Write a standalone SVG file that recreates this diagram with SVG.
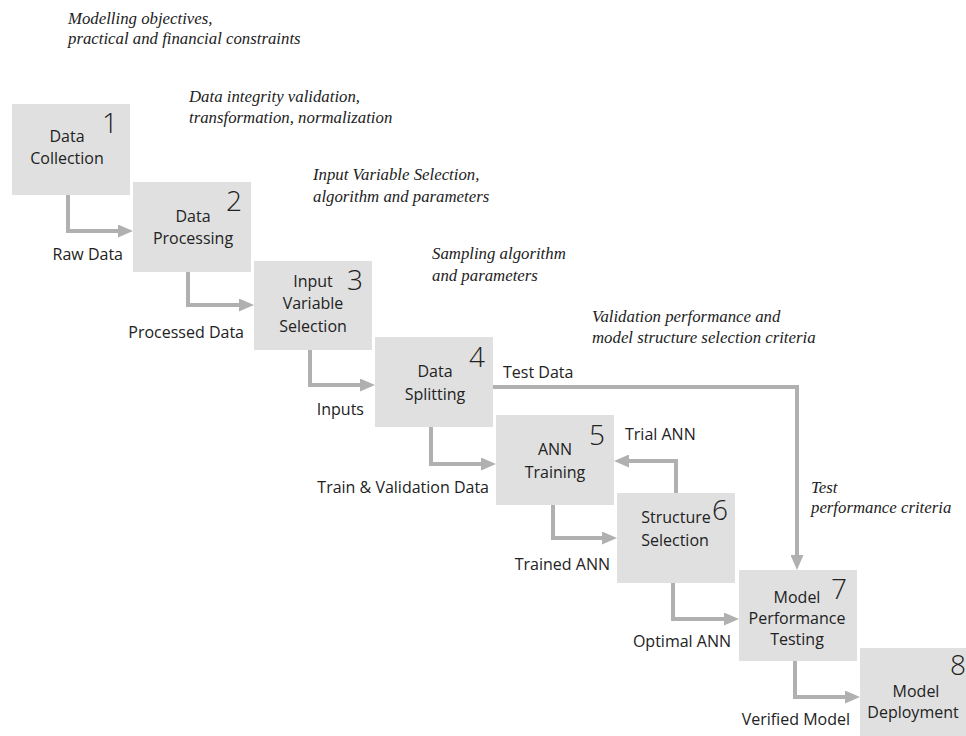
<svg xmlns="http://www.w3.org/2000/svg" width="966" height="736" viewBox="0 0 966 736">
<style>
.box{fill:#e0e0e0;}
.lbl{font-family:"Open Sans","Liberation Sans",sans-serif;font-size:16px;fill:#222;}
.c{text-anchor:middle;}
.e{text-anchor:end;}
.num{font-family:"Open Sans","Liberation Sans",sans-serif;font-weight:300;font-size:28px;fill:#222;text-anchor:end;}
.it{font-family:"Liberation Serif",serif;font-style:italic;font-size:16.8px;fill:#222;}
.conn{fill:none;stroke:#b0b0b0;stroke-width:4;}
</style>
<defs>
<marker id="ah" markerUnits="userSpaceOnUse" viewBox="0 0 15 13" markerWidth="15" markerHeight="13" refX="5" refY="6.5" orient="auto">
<path d="M0,0 L15,6.5 L0,13 Z" fill="#b0b0b0"/>
</marker>
</defs>
<rect width="966" height="736" fill="#ffffff"/>

<g id="annotations">
<text class="it" x="68" y="24">Modelling objectives,</text>
<text class="it" x="68" y="44">practical and financial constraints</text>
<text class="it" x="189" y="102">Data integrity validation,</text>
<text class="it" x="189" y="123">transformation, normalization</text>
<text class="it" x="313" y="180">Input Variable Selection,</text>
<text class="it" x="313" y="202">algorithm and parameters</text>
<text class="it" x="432" y="259">Sampling algorithm</text>
<text class="it" x="432" y="281">and parameters</text>
<text class="it" x="592" y="322">Validation performance and</text>
<text class="it" x="592" y="343">model structure selection criteria</text>
<text class="it" x="811" y="493">Test</text>
<text class="it" x="811" y="513">performance criteria</text>
</g>

<g id="connectors">
<path class="conn" d="M68,195 V231 H123" marker-end="url(#ah)"/>
<path class="conn" d="M188,272 V305 H244" marker-end="url(#ah)"/>
<path class="conn" d="M310,350 V385 H365" marker-end="url(#ah)"/>
<path class="conn" d="M431,427 V464 H486" marker-end="url(#ah)"/>
<path class="conn" d="M553,505 V538 H607" marker-end="url(#ah)"/>
<path class="conn" d="M673,583 V619 H729" marker-end="url(#ah)"/>
<path class="conn" d="M795,661 V697 H850" marker-end="url(#ah)"/>
<path class="conn" d="M676,493 V461 H624" marker-end="url(#ah)"/>
<path class="conn" d="M493,387 H797 V560" marker-end="url(#ah)"/>
<text class="lbl e" x="123" y="260">Raw Data</text>
<text class="lbl e" x="244" y="338">Processed Data</text>
<text class="lbl e" x="364" y="415">Inputs</text>
<text class="lbl e" x="489" y="493">Train &amp; Validation Data</text>
<text class="lbl e" x="610" y="570">Trained ANN</text>
<text class="lbl e" x="731" y="647">Optimal ANN</text>
<text class="lbl e" x="850" y="725">Verified Model</text>
<text class="lbl" x="503" y="378">Test Data</text>
<text class="lbl" x="625" y="440">Trial ANN</text>
</g>

<g id="node1">
<rect class="box" x="12" y="104" width="118" height="91"/>
<text class="num" x="118" y="133">1</text>
<text class="lbl c" x="67" y="142">Data</text>
<text class="lbl c" x="67" y="164">Collection</text>
</g>
<g id="node2">
<rect class="box" x="133" y="182" width="118" height="90"/>
<text class="num" x="242" y="211">2</text>
<text class="lbl c" x="193" y="222">Data</text>
<text class="lbl c" x="193" y="244">Processing</text>
</g>
<g id="node3">
<rect class="box" x="254" y="261" width="118" height="89"/>
<text class="num" x="363" y="290">3</text>
<text class="lbl c" x="313" y="287">Input</text>
<text class="lbl c" x="313" y="309">Variable</text>
<text class="lbl c" x="313" y="332">Selection</text>
</g>
<g id="node4">
<rect class="box" x="375" y="337" width="118" height="90"/>
<text class="num" x="485" y="367">4</text>
<text class="lbl c" x="435" y="377">Data</text>
<text class="lbl c" x="435" y="400">Splitting</text>
</g>
<g id="node5">
<rect class="box" x="496" y="415" width="118" height="90"/>
<text class="num" x="605" y="445">5</text>
<text class="lbl c" x="555" y="455">ANN</text>
<text class="lbl c" x="555" y="478">Training</text>
</g>
<g id="node6">
<rect class="box" x="617" y="493" width="118" height="90"/>
<text class="num" x="728" y="520">6</text>
<text class="lbl c" x="676" y="523">Structure</text>
<text class="lbl c" x="675" y="546">Selection</text>
</g>
<g id="node7">
<rect class="box" x="739" y="570" width="118" height="91"/>
<text class="num" x="847" y="599">7</text>
<text class="lbl c" x="797" y="603">Model</text>
<text class="lbl c" x="797" y="624">Performance</text>
<text class="lbl c" x="797" y="645">Testing</text>
</g>
<g id="node8">
<rect class="box" x="860" y="648" width="118" height="90"/>
<text class="num" x="966" y="675">8</text>
<text class="lbl c" x="916" y="697">Model</text>
<text class="lbl c" x="913" y="718">Deployment</text>
</g>
</svg>
